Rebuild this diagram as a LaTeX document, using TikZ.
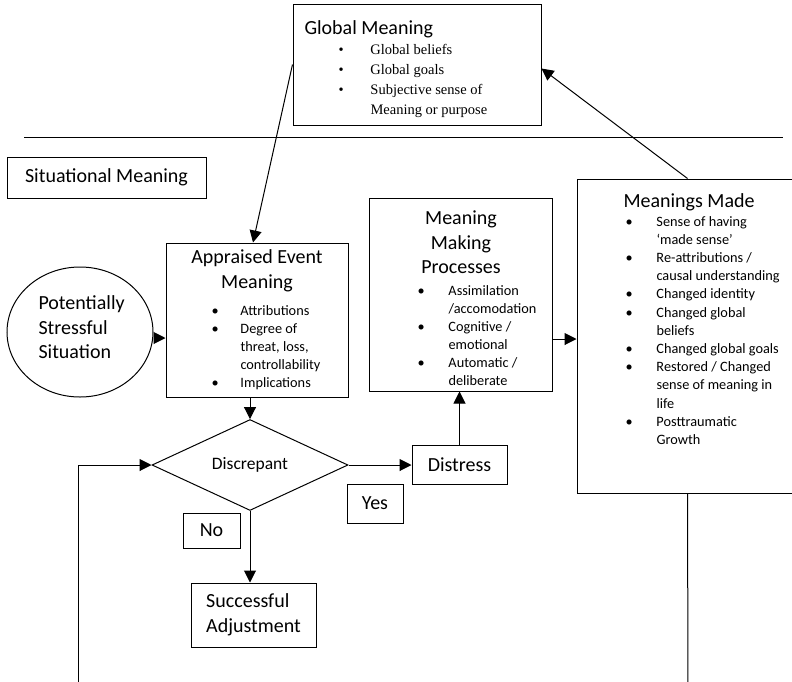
\documentclass[tikz,border=0pt]{standalone}
\usepackage{fontspec}
\setmainfont{Carlito}
\newfontfamily\tnr{Liberation Serif}
\usetikzlibrary{arrows.meta,shapes.geometric,calc}
\newcommand\ttl{\fontsize{20}{24.5}\selectfont}
\newcommand\sml{\fontsize{14.3}{18.2}\selectfont}
\begin{document}
\begin{tikzpicture}[x=1pt,y=-1pt, line width=1pt,
  box/.style={draw, rectangle, inner sep=0pt, font=\ttl},
  arr/.style={-{Triangle[length=12pt,width=12pt]}},
  txt/.style={inner sep=0pt}]
\clip (0,0) rectangle (792,681);
\fill[white] (0,0) rectangle (792,681);

% divider
\coordinate (hl) at (24,137);
\coordinate (hr) at (783,137);
\draw (hl) -- (hr);

% boxes
\node[box, minimum width=248, minimum height=121] (gm) at (417,64.5) {};
\node[box, minimum width=199, minimum height=41] (sit) at (106.5,177.5) {Situational Meaning};
\node[draw, ellipse, minimum width=146, minimum height=130, inner sep=0pt] (pss) at (80,332) {};
\node[box, minimum width=182, minimum height=154] (ae) at (257,320) {};
\node[box, minimum width=183, minimum height=193] (mmp) at (460.5,294.5) {};
\node[box, minimum width=218, minimum height=314] (mm) at (686,336) {};
\node[draw, diamond, minimum width=196, minimum height=73, inner sep=0pt, font=\fontsize{17.5}{20}\selectfont] (dis) at (250,465) {Discrepant};
\node[box, minimum width=95, minimum height=39] (dst) at (459.5,464.5) {Distress};
\node[box, minimum width=56, minimum height=39] (yes) at (375,503.5) {Yes};
\node[box, minimum width=57, minimum height=35] (no) at (211.5,530.5) {No};
\node[box, minimum width=125, minimum height=64, align=left] (suc) at (253.5,615) {Successful\\Adjustment};

% texts
\node[txt, anchor=base west, font=\ttl] (gmt) at (304,34.5) {Global Meaning};
\node[txt, anchor=base west, font=\tnr\fontsize{14.5}{20}\selectfont] (gml) at (338,54)
  {\begin{tabular}[t]{@{}p{32pt}@{}l@{}}\textbullet & Global beliefs\\ \textbullet & Global goals\\ \textbullet & Subjective sense of\\ & Meaning or purpose\end{tabular}};

\node[txt, anchor=base west, font=\ttl] (psst) at (38,309.5)
  {\begin{tabular}[t]{@{}l@{}}Potentially\\Stressful\\Situation\end{tabular}};

\node[txt, anchor=base, font=\ttl] (aet) at (257,263.5)
  {\begin{tabular}[t]{@{}c@{}}Appraised Event\\Meaning\end{tabular}};
\node[txt, anchor=base west, font=\sml] (ael) at (211,315)
  {\begin{tabular}[t]{@{}p{29pt}@{}l@{}}\textbullet & Attributions\\ \textbullet & Degree of\\ & threat, loss,\\ & controllability\\ \textbullet & Implications\end{tabular}};

\node[txt, anchor=base, font=\ttl] (mmpt) at (461,224.5)
  {\begin{tabular}[t]{@{}c@{}}Meaning\\Making\\Processes\end{tabular}};
\node[txt, anchor=base west, font=\fontsize{14.3}{18}\selectfont] (mmpl) at (417,295)
  {\begin{tabular}[t]{@{}p{31pt}@{}l@{}}\textbullet & Assimilation\\ & /accomodation\\ \textbullet & Cognitive /\\ & emotional\\ \textbullet & Automatic /\\ & deliberate\end{tabular}};

\node[txt, anchor=base west, font=\ttl] (mmt) at (623,207.5) {Meanings Made};
\node[txt, anchor=base west, font=\sml] (mml) at (625,226)
  {\begin{tabular}[t]{@{}p{31pt}@{}l@{}}\textbullet & Sense of having\\ & ‘made sense’\\ \textbullet & Re-attributions /\\ & causal understanding\\ \textbullet & Changed identity\\ \textbullet & Changed global\\ & beliefs\\ \textbullet & Changed global goals\\ \textbullet & Restored / Changed\\ & sense of meaning in\\ & life\\ \textbullet & Posttraumatic\\ & Growth\end{tabular}};

% connectors
\path ([yshift=-6pt]pss.east) coordinate (pa);
\draw[arr] (pa) -- (pa -| ae.west);
\draw[arr] ([xshift=-7pt]ae.south) -- (dis.north);
\draw[arr] (dis.south) -- (dis.south |- suc.north);
\draw[arr] (dis.east) -- (dis.east -| dst.west);
\draw[arr] (dst.north) -- (dst.north |- mmp.south);
\path ([yshift=-44.5pt]mmp.east) coordinate (pb);
\draw[arr] (pb) -- (pb -| mm.west);
\path ([xshift=111pt]mm.north west) coordinate (pc);
\draw[arr] (pc) -- ([yshift=-4pt]gm.east);
\draw[arr] (gm.west) -- ([xshift=-4pt]ae.north);
\coordinate (fbs) at (78,690);
\draw[arr] (fbs) |- (dis.west);
\path ([xshift=111pt]mm.south west) coordinate (pd);
\coordinate (mmb) at (688,690);
\draw (pd) -- (mmb);
\end{tikzpicture}
\end{document}
